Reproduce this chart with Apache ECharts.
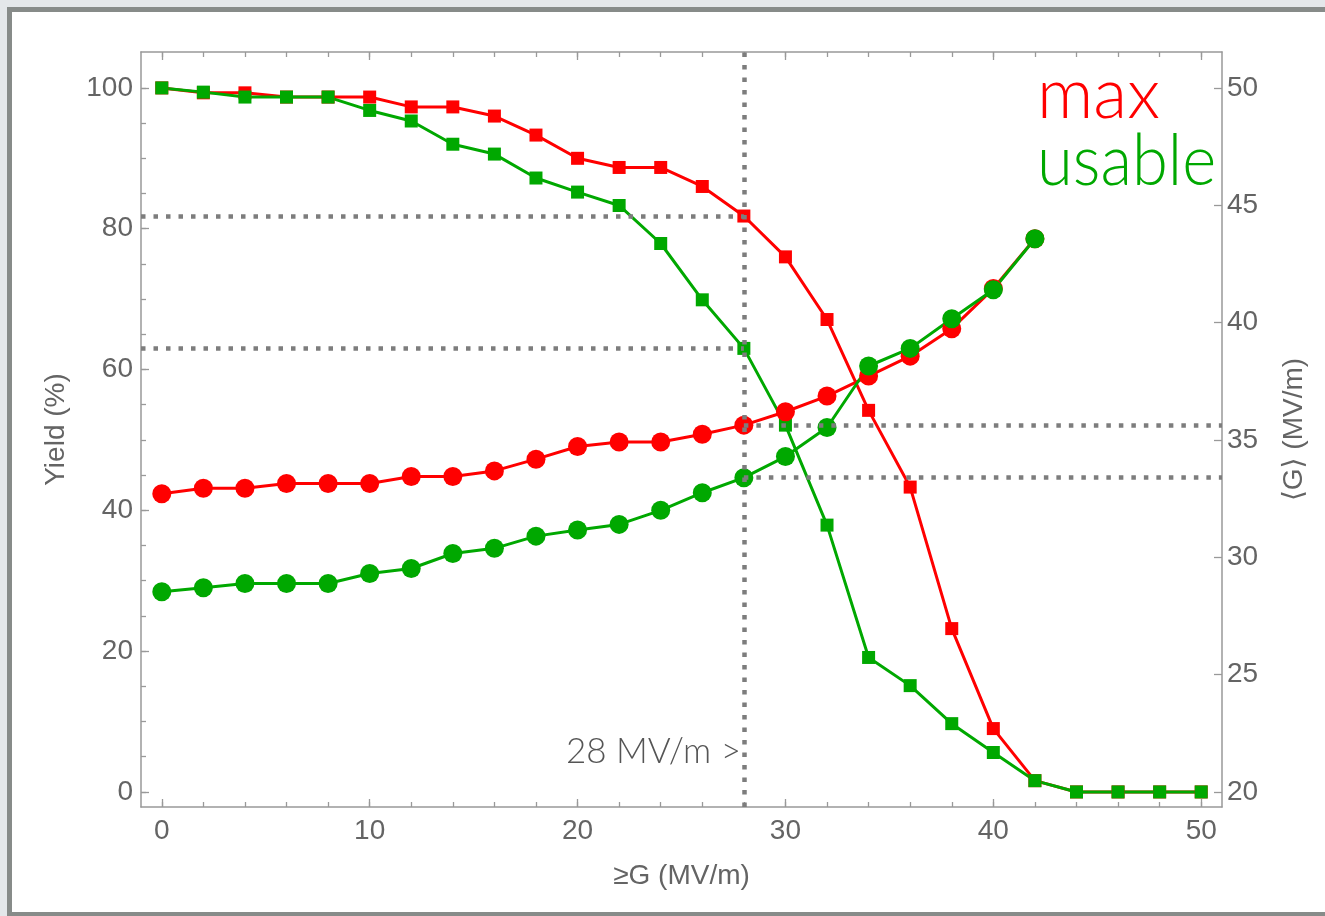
<!DOCTYPE html>
<html>
<head>
<meta charset="utf-8">
<title>Yield and mean gradient vs. threshold gradient</title>
<script src="https://cdn.jsdelivr.net/npm/echarts@6/dist/echarts.min.js"></script>
<style>
  html, body { margin: 0; padding: 0; background: #e4e7ea; overflow: hidden; }
  #panel {
    position: absolute; left: 7px; top: 7px; width: 1330px; height: 910px;
    box-sizing: border-box; background: #ffffff; border: 5px solid #878b89;
  }
  #chart { position: absolute; left: 0; top: 0; width: 1325px; height: 916px; }
</style>
</head>
<body>
<div id="panel"></div>
<div id="chart"></div>
<script>
// Threshold gradient G (MV/m): each point counts cavities reaching at least G
const gradient = [0, 2, 4, 6, 8, 10, 12, 14, 16, 18, 20, 22, 24, 26, 28, 30, 32, 34, 36, 38, 40, 42, 44, 46, 48, 50];

// Yield (%) using the maximum gradient reached
const yieldMax = [100, 99.3, 99.3, 98.7, 98.7, 98.7, 97.3, 97.3, 96.0, 93.3, 90.0, 88.7, 88.7, 86.0, 81.8, 76.0, 67.1, 54.2, 43.3, 23.2, 9.0, 1.6, 0, 0, 0, 0];
// Yield (%) using the usable gradient
const yieldUsable = [100, 99.4, 98.7, 98.7, 98.7, 96.8, 95.3, 92.0, 90.6, 87.2, 85.2, 83.3, 77.9, 69.9, 63.0, 52.1, 37.9, 19.1, 15.1, 9.7, 5.6, 1.6, 0, 0, 0, 0];

// Mean gradient <G> (MV/m) of the cavities above threshold (thresholds 0..42)
const meanGMax = [32.71, 32.94, 32.94, 33.14, 33.14, 33.14, 33.44, 33.44, 33.68, 34.18, 34.72, 34.91, 34.91, 35.24, 35.63, 36.20, 36.87, 37.72, 38.57, 39.74, 41.45, 43.57];
const meanGUsable = [28.53, 28.70, 28.88, 28.88, 28.88, 29.31, 29.52, 30.16, 30.38, 30.90, 31.16, 31.40, 32.00, 32.75, 33.39, 34.29, 35.53, 38.15, 38.90, 40.16, 41.40, 43.57];

// Reference threshold
const threshold = 28;

// Tick positions
const xMajorTicks = [0, 10, 20, 30, 40, 50];
const xMinorTicks = [0, 2, 4, 6, 8, 10, 12, 14, 16, 18, 20, 22, 24, 26, 28, 30, 32, 34, 36, 38, 40, 42, 44, 46, 48, 50];
const yieldMajorTicks = [0, 20, 40, 60, 80, 100];
const yieldMinorTicks = [0, 5, 10, 15, 20, 25, 30, 35, 40, 45, 50, 55, 60, 65, 70, 75, 80, 85, 90, 95, 100];
const gTicks = [20, 25, 30, 35, 40, 45, 50];

const RED = '#ff0000';
const GREEN = '#00a800';
const AXIS_GRAY = '#999999';
const LABEL_GRAY = '#646464';
const GUIDE_GRAY = '#7d7d7d';
const SANS = '"Liberation Sans", Arial, "DejaVu Sans", sans-serif';
const HUMANIST = 'Lato, "Open Sans", sans-serif';

const X_RANGE = { min: -1, max: 51 };
const YIELD_RANGE = { min: -2.14, max: 105.1 };
const G_RANGE = { min: 19.358, max: 51.53 };

const pairs = (xs, ys) => ys.map((y, i) => [xs[i], y]);
const at = (ys) => ys[gradient.indexOf(threshold)];

const labelStyle = { color: LABEL_GRAY, fontFamily: SANS, fontSize: 28 };
const nameStyle = { color: LABEL_GRAY, fontFamily: SANS, fontSize: 28 };

function axisLayer(position, range, ticks, tickLen, showLine, extra) {
  return Object.assign({
    type: 'value',
    position: position,
    min: range.min,
    max: range.max,
    axisLine: { show: showLine, onZero: false, lineStyle: { color: AXIS_GRAY, width: 1.5 } },
    axisTick: { show: true, inside: true, length: tickLen, customValues: ticks,
                lineStyle: { color: AXIS_GRAY, width: 1.3 } },
    axisLabel: { show: false },
    splitLine: { show: false },
    minorTick: { show: false }
  }, extra || {});
}

function dataSeries(name, xs, ys, yAxisIndex, color, symbol, size) {
  return {
    name: name,
    type: 'line',
    xAxisIndex: 0,
    yAxisIndex: yAxisIndex,
    data: pairs(xs, ys),
    symbol: symbol,
    symbolSize: size,
    showSymbol: true,
    showAllSymbol: true,
    lineStyle: { color: color, width: 3 },
    itemStyle: { color: color },
    emphasis: { disabled: true },
    z: 3
  };
}

const guideLine = { color: GUIDE_GRAY, width: 4.5, type: [4.5, 8], cap: 'butt' };

const chart = echarts.init(document.getElementById('chart'), null, { renderer: 'canvas' });

chart.setOption({
  animation: false,
  grid: { left: 141, right: 103, top: 52, bottom: 109, outerBoundsMode: 'none' },
  xAxis: [
    axisLayer('bottom', X_RANGE, xMinorTicks, 5, true, {
      axisLabel: Object.assign({ show: true, margin: 10, customValues: xMajorTicks }, labelStyle),
      name: '\u2265G (MV/m)', nameLocation: 'middle', nameGap: 55, nameTextStyle: nameStyle
    }),
    axisLayer('bottom', X_RANGE, xMajorTicks, 8, false),
    axisLayer('top', X_RANGE, xMinorTicks, 5, true),
    axisLayer('top', X_RANGE, xMajorTicks, 8, false)
  ],
  yAxis: [
    axisLayer('left', YIELD_RANGE, yieldMinorTicks, 5, true, {
      axisLabel: Object.assign({ show: true, margin: 8, customValues: yieldMajorTicks }, labelStyle),
      name: 'Yield (%)', nameLocation: 'middle', nameGap: 71, nameRotate: 90, nameTextStyle: nameStyle
    }),
    axisLayer('right', G_RANGE, gTicks, 8, true, {
      axisLabel: Object.assign({ show: true, margin: 5, customValues: gTicks }, labelStyle),
      name: '\u27E8G\u27E9 (MV/m)', nameLocation: 'middle', nameGap: 58, nameRotate: 90, nameTextStyle: nameStyle
    }),
    axisLayer('left', YIELD_RANGE, yieldMajorTicks, 8, false)
  ],
  series: [
    dataSeries('max yield', gradient, yieldMax, 0, RED, 'rect', 13),
    dataSeries('usable yield', gradient, yieldUsable, 0, GREEN, 'rect', 13),
    dataSeries('max <G>', gradient, meanGMax, 1, RED, 'circle', 19),
    dataSeries('usable <G>', gradient, meanGUsable, 1, GREEN, 'circle', 19),
    {
      name: 'yield guides', type: 'line', xAxisIndex: 0, yAxisIndex: 0, data: [], silent: true,
      markLine: {
        silent: true, symbol: 'none', animation: false, label: { show: false }, lineStyle: guideLine,
        data: [
          [{ coord: [threshold, YIELD_RANGE.min] }, { coord: [threshold, YIELD_RANGE.max] }],
          [{ coord: [X_RANGE.min, at(yieldMax)] }, { coord: [threshold, at(yieldMax)] }],
          [{ coord: [X_RANGE.min, at(yieldUsable)] }, { coord: [threshold, at(yieldUsable)] }]
        ]
      }
    },
    {
      name: 'gradient guides', type: 'line', xAxisIndex: 0, yAxisIndex: 1, data: [], silent: true,
      markLine: {
        silent: true, symbol: 'none', animation: false, label: { show: false }, lineStyle: guideLine,
        data: [
          [{ coord: [threshold, at(meanGMax)] }, { coord: [X_RANGE.max, at(meanGMax)] }],
          [{ coord: [threshold, at(meanGUsable)] }, { coord: [X_RANGE.max, at(meanGUsable)] }]
        ]
      }
    }
  ],
  graphic: [
    { type: 'text', x: 1037, y: 95, silent: true,
      style: { text: 'max', fill: RED, font: '300 70px ' + HUMANIST,
               align: 'left', verticalAlign: 'middle', textAlign: 'left', textVerticalAlign: 'middle' } },
    { type: 'text', x: 1037, y: 162, scaleX: 0.93, silent: true,
      style: { text: 'usable', fill: GREEN, font: '300 70px ' + HUMANIST,
               align: 'left', verticalAlign: 'middle', textAlign: 'left', textVerticalAlign: 'middle' } },
    { type: 'text', x: 741, y: 752, silent: true,
      style: { text: threshold + ' MV/m >', fill: '#555555', font: '300 35px ' + HUMANIST,
               align: 'right', verticalAlign: 'middle', textAlign: 'right', textVerticalAlign: 'middle' } }
  ]
});
</script>
</body>
</html>
